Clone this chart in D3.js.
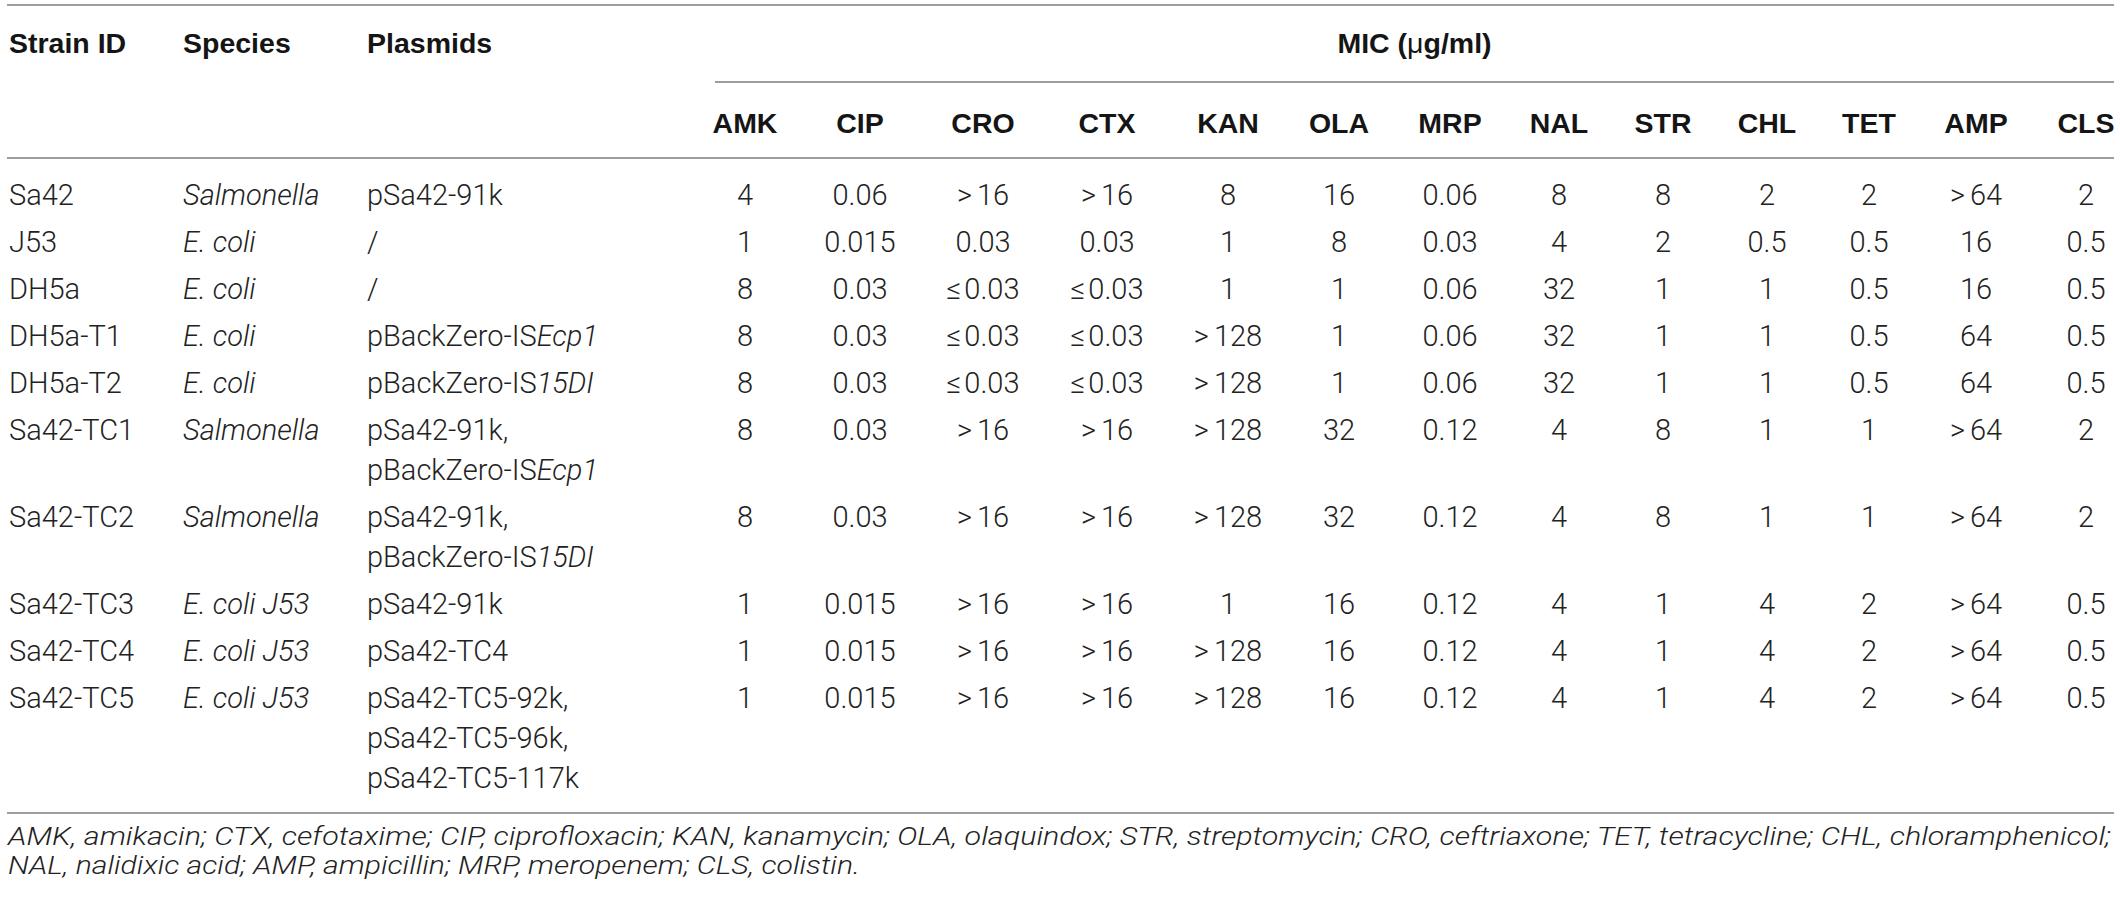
<!DOCTYPE html>
<html><head><meta charset="utf-8">
<script src="https://cdn.jsdelivr.net/npm/d3@7"></script>
<style>body{margin:0;background:#fff}svg{display:block}</style>
</head><body><svg id="c" width="2120" height="899"></svg>
<script>
// ---------- DATA ----------
const strains = ["Sa42","J53","DH5a","DH5a-T1","DH5a-T2","Sa42-TC1","Sa42-TC2","Sa42-TC3","Sa42-TC4","Sa42-TC5"];
const species = ["Salmonella","E. coli","E. coli","E. coli","E. coli","Salmonella","Salmonella","E. coli J53","E. coli J53","E. coli J53"];
// "_" toggles italic
const plasmids = [
  ["pSa42-91k"], ["/"], ["/"],
  ["pBackZero-IS_Ecp1_"], ["pBackZero-IS_15DI_"],
  ["pSa42-91k,","pBackZero-IS_Ecp1_"], ["pSa42-91k,","pBackZero-IS_15DI_"],
  ["pSa42-91k"], ["pSa42-TC4"],
  ["pSa42-TC5-92k,","pSa42-TC5-96k,","pSa42-TC5-117k"]
];
const antibiotics = ["AMK","CIP","CRO","CTX","KAN","OLA","MRP","NAL","STR","CHL","TET","AMP","CLS"];
const amk = ["4","1","8","8","8","8","8","1","1","1"];
const cip = ["0.06","0.015","0.03","0.03","0.03","0.03","0.03","0.015","0.015","0.015"];
const cro = [">16","0.03","≤0.03","≤0.03","≤0.03",">16",">16",">16",">16",">16"];
const ctx = [">16","0.03","≤0.03","≤0.03","≤0.03",">16",">16",">16",">16",">16"];
const kan = ["8","1","1",">128",">128",">128",">128","1",">128",">128"];
const ola = ["16","8","1","1","1","32","32","16","16","16"];
const mrp = ["0.06","0.03","0.06","0.06","0.06","0.12","0.12","0.12","0.12","0.12"];
const nal = ["8","4","32","32","32","4","4","4","4","4"];
const str = ["8","2","1","1","1","8","8","1","1","1"];
const chl = ["2","0.5","1","1","1","1","1","4","4","4"];
const tet = ["2","0.5","0.5","0.5","0.5","1","1","2","2","2"];
const amp = [">64","16","16","64","64",">64",">64",">64",">64",">64"];
const cls = ["2","0.5","0.5","0.5","0.5","2","2","0.5","0.5","0.5"];
const micColumns = [amk,cip,cro,ctx,kan,ola,mrp,nal,str,chl,tet,amp,cls];
const headerLabels = ["Strain ID","Species","Plasmids"];
const micTitle = ["MIC (", "μ", "g/ml)"];
const footnote = [
  "AMK, amikacin; CTX, cefotaxime; CIP, ciprofloxacin; KAN, kanamycin; OLA, olaquindox; STR, streptomycin; CRO, ceftriaxone; TET, tetracycline; CHL, chloramphenicol;",
  "NAL, nalidixic acid; AMP, ampicillin; MRP, meropenem; CLS, colistin."
];

// ---------- LAYOUT ----------
const FONT_BODY = "Roboto, 'Liberation Sans', Arial, sans-serif";
const FONT_HEAD = "'Liberation Sans', Arial, Helvetica, sans-serif";
const FS = 29, FS_HEAD = 28.5, FS_NOTE = 25;
const BODY = "#222", HEAD = "#151515", RULE = "#7d7d7d";
const ruleX0 = 7, ruleX1 = 2114, micRuleX0 = 715;
const yTopRule = 5, yMicRule = 82, yHeadRule = 158, yBottomRule = 813;
const yHead1 = 53, yHead2 = 133;
const textColX = [9, 183, 367];
const micCenters = [745,860,983,1107,1228,1339,1450,1559,1663,1767,1869,1976,2086];
const firstRow = 195, rowPitch = 47, linePitch = 40, baseOff = 10;
const noteX = 8, noteY = [845, 874], noteLen = [2103, 852];

const svg = d3.select("#c");
svg.append("rect").attr("width",2120).attr("height",899).attr("fill","#fff");

const xMic = d3.scaleOrdinal().domain(antibiotics).range(micCenters);
const xText = d3.scaleOrdinal().domain(headerLabels).range(textColX);
const rowCenters = [];
{ let yc = firstRow;
  plasmids.forEach(p => { rowCenters.push(yc); yc += rowPitch + linePitch*(p.length-1); }); }
const yRow = d3.scaleOrdinal().domain(strains).range(rowCenters);

// rules
const rules = [
  [ruleX0, ruleX1, yTopRule], [micRuleX0, ruleX1, yMicRule],
  [ruleX0, ruleX1, yHeadRule], [ruleX0, ruleX1, yBottomRule]
];
svg.append("g").selectAll("line").data(rules).join("line")
  .attr("x1", d=>d[0]).attr("x2", d=>d[1]).attr("y1", d=>d[2]).attr("y2", d=>d[2])
  .attr("stroke", RULE).attr("stroke-width", 1.5);

const H = svg.append("g").attr("font-family", FONT_HEAD).attr("font-size", FS_HEAD)
  .attr("font-weight","bold").attr("fill",HEAD);
const T = svg.append("g").attr("font-family", FONT_BODY).attr("font-size", FS)
  .attr("font-weight", 300).attr("fill", BODY);

// headers
H.append("g").selectAll("text").data(headerLabels).join("text")
  .attr("x", d=>xText(d)).attr("y", yHead1).text(d=>d);
const mt = H.append("text").attr("x", (micRuleX0+ruleX1)/2).attr("y", yHead1)
  .attr("text-anchor","middle");
mt.append("tspan").text(micTitle[0]);
mt.append("tspan").attr("font-weight","normal").text(micTitle[1]);
mt.append("tspan").text(micTitle[2]);
H.append("g").selectAll("text").data(antibiotics).join("text")
  .attr("x", d=>xMic(d)).attr("y", yHead2).attr("text-anchor","middle").text(d=>d);

// body: strain & species
T.append("g").selectAll("text").data(strains).join("text")
  .attr("x", xText("Strain ID")).attr("y", d=>yRow(d)+baseOff).text(d=>d);
T.append("g").selectAll("text").data(species).join("text")
  .attr("x", xText("Species")).attr("y", (d,i)=>yRow(strains[i])+baseOff)
  .attr("font-style","italic").text(d=>d);

// plasmids (multi-line, mixed italic)
plasmids.forEach((lines,i) => {
  lines.forEach((ln,j) => {
    const t = T.append("text").attr("x", xText("Plasmids"))
      .attr("y", yRow(strains[i]) + baseOff + j*linePitch);
    ln.split("_").forEach((seg,k) => {
      if (!seg) return;
      t.append("tspan").attr("font-style", k%2 ? "italic" : "normal").text(seg);
    });
  });
});

// MIC cells
const cells = [];
micColumns.forEach((col,c) => col.forEach((v,r) => cells.push({ab: antibiotics[c], strain: strains[r], v})));
const ct = T.append("g").selectAll("text").data(cells).join("text")
  .attr("x", d=>xMic(d.ab)).attr("y", d=>yRow(d.strain)+baseOff)
  .attr("text-anchor","middle");
ct.each(function(d){
  const s = d3.select(this);
  const m = d.v.match(/^([>≤])(.*)$/);
  if (m) {
    s.append("tspan").text(m[1]);
    s.append("tspan").attr("dx", m[1]===">" ? 5 : 3).text(m[2]);
  } else s.text(d.v);
});

// footnote
T.append("g").selectAll("text").data(footnote).join("text")
  .attr("x", noteX).attr("y", (d,i)=>noteY[i]).attr("font-size", FS_NOTE)
  .attr("textLength", (d,i)=>noteLen[i]).attr("lengthAdjust","spacingAndGlyphs")
  .attr("font-style","italic").text(d=>d);
</script></body></html>
